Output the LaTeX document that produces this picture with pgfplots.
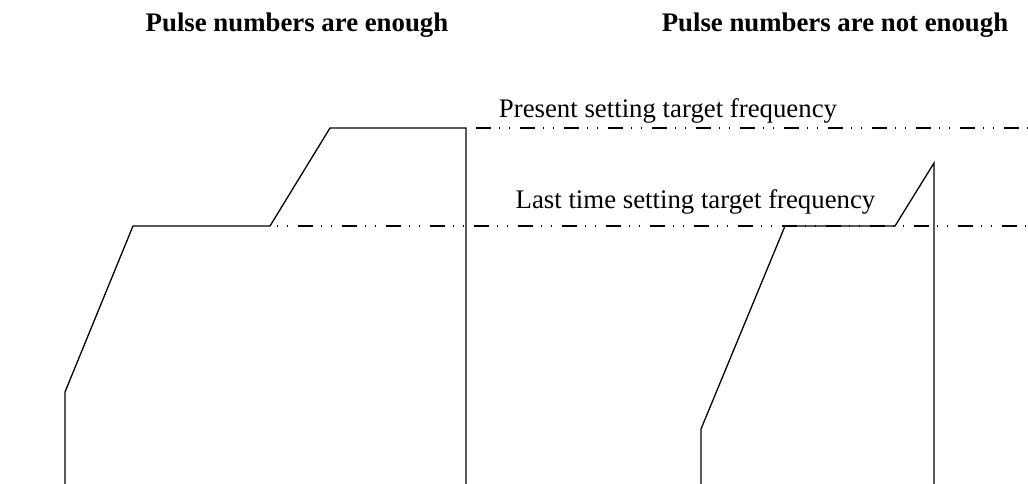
\documentclass[border=0pt]{standalone}
\usepackage{fontspec}
\setmainfont{Liberation Serif}
\usepackage{pgfplots}
\pgfplotsset{compat=1.18}
\begin{document}
\begin{tikzpicture}
\begin{axis}[
  at={(0,0)}, anchor=south west,
  width=1028pt, height=484pt, scale only axis,
  xmin=0, xmax=1028, ymin=0, ymax=484,
  axis lines=none, ticks=none, clip=false,
]
% left curve: pulse numbers are enough
\addplot[black, line width=1.3pt, line join=miter] coordinates {
  (65,0) (65,92) (133,258) (270,258) (330,356) (466,356) (466,0)
};
% right curve: pulse numbers are not enough
\addplot[black, line width=1.3pt, line join=miter] coordinates {
  (701,0) (701,55) (785,258) (895,258) (934,321) (934,0)
};
% present setting target frequency
\addplot[black, line width=1.3pt, dash pattern=on 15pt off 8pt on 1pt off 9pt on 1pt off 10pt] coordinates {
  (476,356) (1028,356)
};
% last time setting target frequency
\addplot[black, line width=1.3pt, dash pattern=on 15pt off 8pt on 1pt off 9pt on 1pt off 10pt, dash phase=16pt] coordinates {
  (270,258) (1028,258)
};
\node[anchor=base, font=\fontsize{26.8}{31}\selectfont\bfseries] at (axis cs:297,452) {Pulse numbers are enough};
\node[anchor=base, font=\fontsize{26.8}{31}\selectfont\bfseries] at (axis cs:835,452) {Pulse numbers are not enough};
\node[anchor=base, font=\fontsize{26.8}{31}\selectfont] at (axis cs:668,366) {Present setting target frequency};
\node[anchor=base, font=\fontsize{26.8}{31}\selectfont] at (axis cs:695.5,275) {Last time setting target frequency};
\end{axis}
\pgfresetboundingbox
\useasboundingbox (0,0) rectangle (1028pt,484pt);
\end{tikzpicture}
\end{document}
